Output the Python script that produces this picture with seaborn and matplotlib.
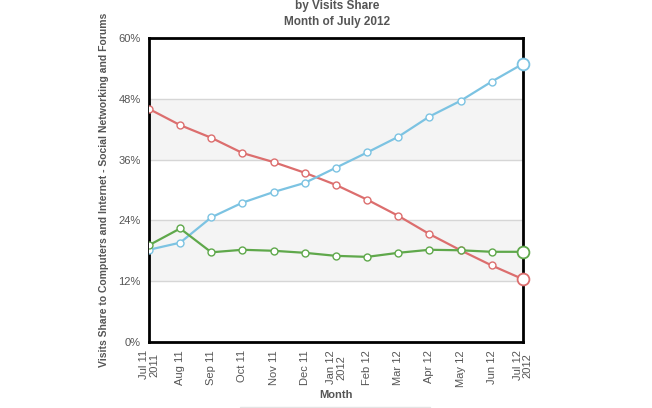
import pandas as pd
import matplotlib
matplotlib.use("Agg")
import matplotlib.pyplot as plt
import seaborn as sns
from matplotlib.lines import Line2D

# Data (visits share, %)
months = ["Jul 11\n2011", "Aug 11", "Sep 11", "Oct 11", "Nov 11", "Dec 11", "Jan 12\n2012",
          "Feb 12", "Mar 12", "Apr 12", "May 12", "Jun 12", "Jul 12\n2012"]
red_vals = [46.0, 42.8, 40.3, 37.3, 35.5, 33.4, 31.0, 28.1, 24.9, 21.3, 18.1, 15.1, 12.4]
blue_vals = [18.2, 19.6, 24.6, 27.5, 29.6, 31.4, 34.4, 37.4, 40.5, 44.5, 47.6, 51.4, 54.9]
green_vals = [19.1, 22.4, 17.7, 18.2, 18.0, 17.6, 17.0, 16.8, 17.6, 18.2, 18.1, 17.8, 17.8]
series_names = ["red", "blue", "green"]
series_colors = {"red": "#dc6e6e", "blue": "#7cc3e2", "green": "#5fa84b"}

df = pd.DataFrame({
    "idx": list(range(len(months))) * 3,
    "share": red_vals + blue_vals + green_vals,
    "series": [s for s in series_names for _ in months],
})

sns.set_theme(style="white")
plt.rcParams["font.family"] = ["Liberation Sans", "DejaVu Sans"]

fig = plt.figure(figsize=(6.52, 4.08), dpi=100)
ax = fig.add_axes([0.2285, 0.1618, 0.5735, 0.7451])

# alternating bands and grid lines
for lo, hi in [(12, 24), (36, 48)]:
    ax.axhspan(lo, hi, color="#f4f4f4", zorder=0, lw=0)
for yv in [12, 24, 36, 48]:
    ax.axhline(yv, color="#d6d6d6", lw=1, zorder=1)

sns.lineplot(data=df, x="idx", y="share", hue="series", palette=series_colors,
             marker="o", markersize=5, markerfacecolor="white", markeredgewidth=1,
             linewidth=1.6, legend=False, ax=ax, zorder=3)
for line in ax.get_lines()[-3:]:
    line.set_markeredgecolor(line.get_color())

# larger end markers
last = df[df["idx"] == len(months) - 1]
for _, row in last.iterrows():
    ax.plot(row["idx"], row["share"], "o", ms=8.5, mfc="white",
            mec=series_colors[row["series"]], mew=1.3, zorder=5, clip_on=False)

ax.set_xlim(0, len(months) - 1)
ax.set_ylim(0, 60)
ax.set_yticks([0, 12, 24, 36, 48, 60])
ax.set_yticklabels([f"{v}%" for v in [0, 12, 24, 36, 48, 60]], fontsize=8, color="#555555")
ax.set_xticks(range(len(months)))
ax.set_xticklabels(months, rotation=90, fontsize=8, color="#555555", va="top",
                   linespacing=1.0)
ax.tick_params(axis="both", length=0, pad=6)

for sp in ax.spines.values():
    sp.set_color("black")
    sp.set_linewidth(2)

ax.set_xlabel("Month", fontsize=8, fontweight="bold", color="#555555", labelpad=2)
ax.set_ylabel("Visits Share to Computers and Internet - Social Networking and Forums",
              fontsize=7.5, fontweight="bold", color="#555555", labelpad=7)

fig.text(0.517, 0.985, "by Visits Share", ha="center", va="center",
         fontsize=8.5, fontweight="bold", color="#555555")
fig.text(0.517, 0.946, "Month of July 2012", ha="center", va="center",
         fontsize=8.5, fontweight="bold", color="#555555")

fig.add_artist(Line2D([0.368, 0.66], [0.003, 0.003], color="#e4e4e4", lw=1))

fig.savefig("out.png", dpi=100, facecolor="white")
